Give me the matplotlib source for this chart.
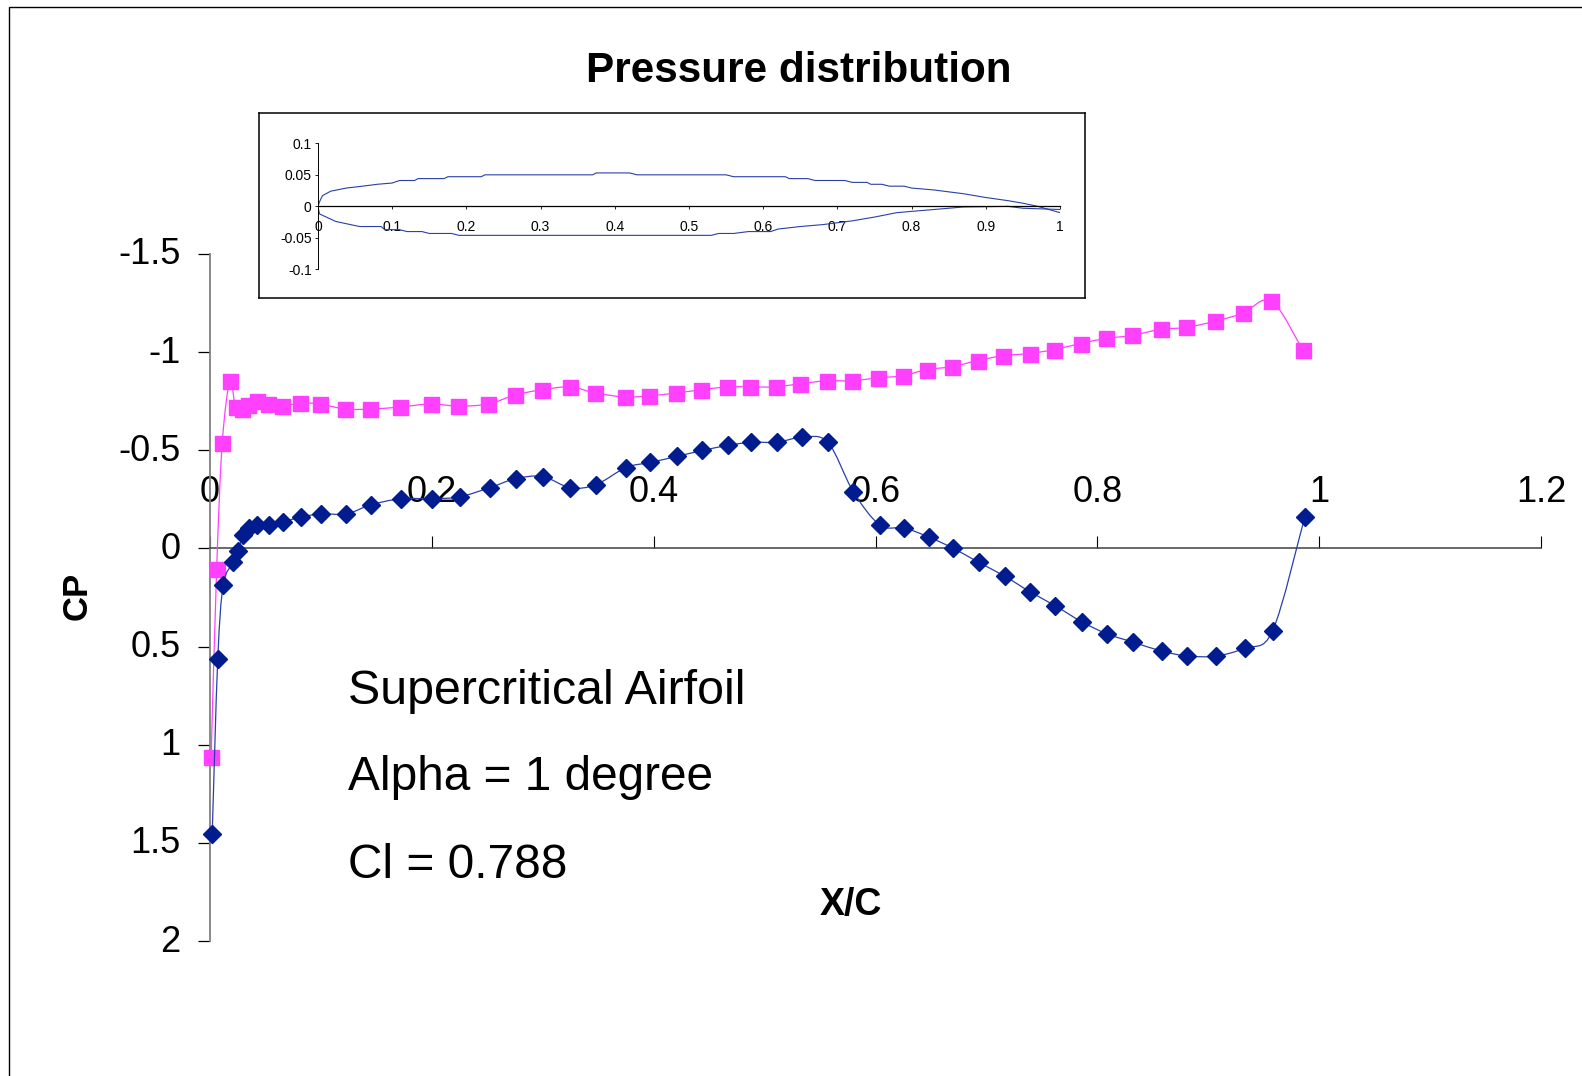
import matplotlib
matplotlib.use("Agg")
import matplotlib.pyplot as plt
from matplotlib.patches import Rectangle, PathPatch
from matplotlib.path import Path
from matplotlib.transforms import ScaledTranslation

plt.rcParams['font.family'] = ['Liberation Sans', 'DejaVu Sans']

title = "Pressure distribution"
xlabel = "X/C"
ylabel = "CP"
notes = ["Supercritical Airfoil", "Alpha = 1 degree", "Cl = 0.788"]
note_sizes = [34.8, 34.4, 34.4]

x_ticks = [0, 0.2, 0.4, 0.6, 0.8, 1, 1.2]
x_labels = ["0", "0.2", "0.4", "0.6", "0.8", "1", "1.2"]
y_ticks = [-1.5, -1, -0.5, 0, 0.5, 1, 1.5, 2]
y_labels = ["-1.5", "-1", "-0.5", "0", "0.5", "1", "1.5", "2"]

upper_x = [.001,.006,.011,.018,.023,.029,.034,.042,.052,.065,.081,.099,.122,.144,.171,.199,.224,.251,.275,.299,.325,.347,.374,.396,.420,.443,.466,.487,.510,.532,.556,.579,.602,.625,.646,.669,.692,.715,.739,.761,.785,.808,.831,.857,.880,.906,.931,.957,.985]
upper_cp = [1.063,.107,-.535,-.854,-.72,-.71,-.73,-.751,-.736,-.725,-.741,-.736,-.71,-.71,-.72,-.736,-.725,-.736,-.782,-.808,-.823,-.792,-.772,-.777,-.792,-.808,-.823,-.823,-.823,-.839,-.854,-.854,-.869,-.880,-.911,-.926,-.957,-.982,-.993,-1.013,-1.044,-1.070,-1.085,-1.116,-1.126,-1.157,-1.198,-1.260,-1.013]

lower_x = [.002,.007,.012,.021,.025,.030,.035,.042,.053,.066,.082,.100,.123,.145,.172,.200,.225,.252,.276,.300,.325,.348,.375,.397,.421,.444,.467,.488,.511,.534,.557,.580,.604,.626,.648,.670,.693,.717,.739,.762,.786,.809,.832,.858,.881,.907,.933,.958,.987]
lower_cp = [1.453,.564,.184,.071,.014,-.068,-.104,-.119,-.119,-.135,-.160,-.176,-.176,-.222,-.253,-.253,-.263,-.309,-.356,-.366,-.309,-.325,-.412,-.438,-.469,-.499,-.525,-.541,-.541,-.566,-.541,-.289,-.119,-.104,-.058,-.001,.071,.143,.220,.292,.374,.436,.477,.523,.548,.548,.507,.420,-.160]

foil_top_x = [0,.002,.006,.017,.038,.06,.08,.1,.11,.13,.135,.17,.175,.22,.225,.37,.375,.42,.43,.55,.56,.63,.635,.66,.67,.71,.72,.74,.745,.76,.77,.79,.8,.83,.85,.87,.9,.93,.95,.97,1]
foil_top_y = [0,.007,.017,.024,.029,.032,.035,.037,.041,.041,.044,.044,.047,.047,.05,.05,.053,.053,.05,.05,.047,.047,.044,.044,.041,.041,.038,.038,.035,.035,.032,.032,.029,.026,.023,.02,.014,.009,.005,0,-.01]
foil_bot_x = [0,.002,.024,.056,.085,.09,.11,.12,.14,.15,.18,.19,.53,.54,.56,.58,.61,.62,.65,.68,.72,.75,.78,.81,.84,.87,.93,.95,1]
foil_bot_y = [0,-.012,-.024,-.032,-.032,-.037,-.037,-.04,-.04,-.043,-.043,-.046,-.046,-.043,-.043,-.04,-.04,-.036,-.032,-.029,-.023,-.017,-.01,-.007,-.004,-.001,0,-.003,-.005]
inset_x_ticks = [0,.1,.2,.3,.4,.5,.6,.7,.8,.9,1]
inset_x_labels = ["0","0.1","0.2","0.3","0.4","0.5","0.6","0.7","0.8","0.9","1"]
inset_y_ticks = [.1,.05,0,-.05,-.1]
inset_y_labels = ["0.1","0.05","0","-0.05","-0.1"]

W, H = 1582, 1076
fig = plt.figure(figsize=(W/100, H/100), dpi=100, facecolor='white')

def box(l, t, r, b):
    return [l/W, 1-b/H, (r-l)/W, (b-t)/H]

def smooth_path(xs, ys):
    """Bezier path through the data points, as Excel's smoothed line."""
    n = len(xs)
    verts = [(xs[0], ys[0])]
    codes = [Path.MOVETO]
    for i in range(n - 1):
        a, c = max(i - 1, 0), min(i + 2, n - 1)
        verts.append((xs[i] + (xs[i+1] - xs[a]) / 6, ys[i] + (ys[i+1] - ys[a]) / 6))
        verts.append((xs[i+1] - (xs[c] - xs[i]) / 6, ys[i+1] - (ys[c] - ys[i]) / 6))
        verts.append((xs[i+1], ys[i+1]))
        codes += [Path.CURVE4] * 3
    return Path(verts, codes)

fig.add_artist(Rectangle((9/W, -0.1), 1.2, 1.1-7/H, transform=fig.transFigure,
                         fill=False, ec='black', lw=1.0))

ax = fig.add_axes(box(210, 254, 1541, 941))
ax.set_xlim(0, 1.2)
ax.set_ylim(2, -1.5)
ax.patch.set_alpha(0)
for s in ('top', 'right'):
    ax.spines[s].set_visible(False)
ax.spines['bottom'].set_position(('data', 0))
ax.spines['left'].set_color('#808080')
ax.spines['left'].set_linewidth(1.3)
ax.spines['bottom'].set_color('#404040')
ax.spines['bottom'].set_linewidth(1.1)
ax.set_xticks(x_ticks, x_labels)
ax.set_yticks(y_ticks, y_labels)
ax.tick_params(axis='x', direction='in', length=8.6, width=0.8, labelsize=26, pad=-53, colors='black')
ax.tick_params(axis='y', direction='out', length=9, width=0.9, labelsize=26, pad=12)
shift = ScaledTranslation(0, 3/100, fig.dpi_scale_trans)
for lab in ax.get_yticklabels():
    lab.set_transform(lab.get_transform() + shift)
ax.add_patch(PathPatch(smooth_path(upper_x, upper_cp), fill=False, ec='#FF40FF', lw=0.9, clip_on=False, zorder=3))
ax.add_patch(PathPatch(smooth_path(lower_x, lower_cp), fill=False, ec='#2A3FA8', lw=0.9, clip_on=False, zorder=4))
ax.plot(upper_x, upper_cp, ls='none', color='#FF40FF', marker='s', ms=10.8, clip_on=False, zorder=3)
ax.plot(lower_x, lower_cp, ls='none', color='#001C8E', marker='D', ms=9, clip_on=False, zorder=4)

fig.text(799/W, 1-71/H, title, fontsize=30.4, fontweight='bold', ha='center', va='center')
fig.text(851/W, 1-905/H, xlabel, fontsize=27, fontweight='bold', ha='center', va='center')
fig.text(77/W, 1-596/H, ylabel, fontsize=25, fontweight='bold', rotation=90, ha='center', va='center')
for t, py, fs in zip(notes, [691, 778, 865], note_sizes):
    fig.text(348/W, 1-py/H, t, fontsize=fs, ha='left', va='center')

frame = fig.add_axes(box(259, 113, 1085, 298))
frame.set_xticks([]); frame.set_yticks([])
frame.set_facecolor('white')
for s in frame.spines.values():
    s.set_linewidth(1.1)

ins = fig.add_axes(box(318, 143.3, 1060, 269.4))
ins.set_xlim(0, 1)
ins.set_ylim(-.1, .1)
ins.patch.set_alpha(0)
for s in ('top', 'right'):
    ins.spines[s].set_visible(False)
ins.spines['bottom'].set_position(('data', 0))
ins.spines['left'].set_linewidth(0.7)
ins.spines['bottom'].set_linewidth(0.9)
ins.set_xticks(inset_x_ticks, inset_x_labels)
ins.set_yticks(inset_y_ticks, inset_y_labels)
ins.tick_params(axis='x', direction='out', length=2.5, width=0.6, labelsize=10, pad=7.5)
ins.tick_params(axis='y', direction='out', length=2.5, width=0.6, labelsize=10, pad=2)
ins.plot(foil_top_x, foil_top_y, color='#2A3FA8', lw=0.8)
ins.plot(foil_bot_x, foil_bot_y, color='#2A3FA8', lw=0.8)

fig.savefig('out.png', dpi=100)
